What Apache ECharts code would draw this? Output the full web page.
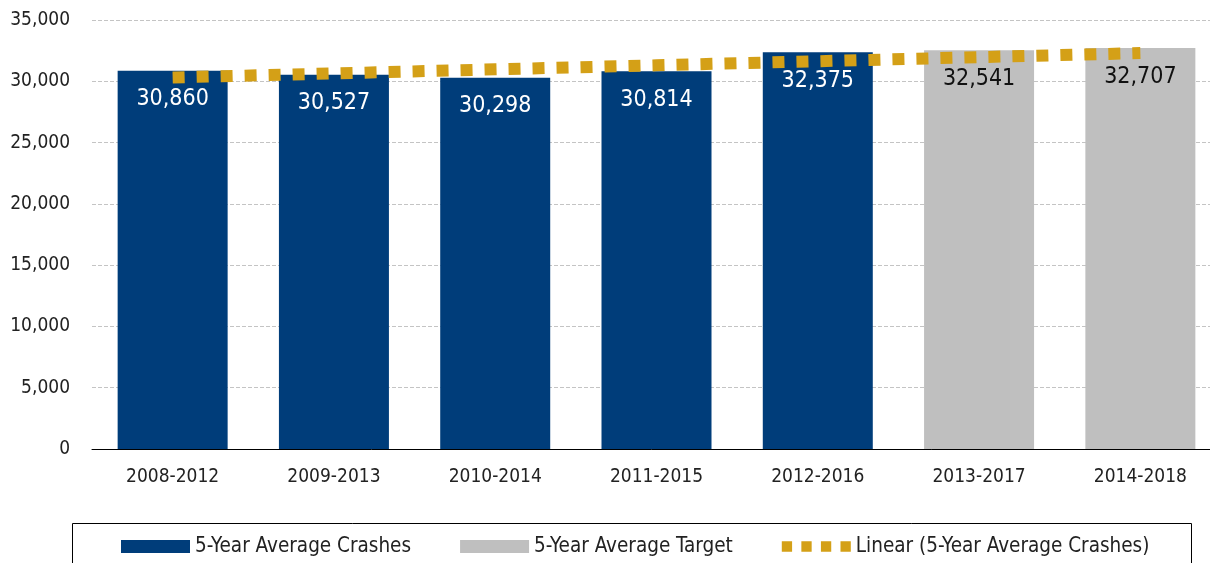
<!DOCTYPE html>
<html><head><meta charset="utf-8">
<script src="https://cdn.jsdelivr.net/npm/echarts@6/dist/echarts.min.js"></script>
<style>html,body{margin:0;padding:0;background:#fff}#c{width:1210px;height:563px}</style>
</head><body><div id="c"></div>
<script>
const categories = ['2008-2012','2009-2013','2010-2014','2011-2015','2012-2016','2013-2017','2014-2018'];
const crashes = [30860, 30527, 30298, 30814, 32375, null, null];
const targets = [null, null, null, null, null, 32541, 32707];
const trend = [30311, 30643, 30975, 31306, 31638, 31970, 32302];
const yTicks = [0, 5000, 10000, 15000, 20000, 25000, 30000, 35000];

const FONT = '"Liberation Sans Narrow", "DejaVu Sans Condensed", sans-serif';
const fmt = v => v.toLocaleString('en-US');
const chart = echarts.init(document.getElementById('c'), null, {renderer: 'canvas'});
chart.setOption({
  animation: false,
  textStyle: {fontFamily: FONT},
  grid: {left: 92, width: 1129, top: 20, height: 429, containLabel: false, outerBoundsMode: 'none'},
  xAxis: {
    type: 'category', data: categories,
    axisLine: {lineStyle: {color: '#000', width: 1}},
    axisTick: {show: false},
    axisLabel: {color: '#222', fontSize: 19, fontFamily: FONT, margin: 19}
  },
  yAxis: {
    type: 'value', min: yTicks[0], max: yTicks[yTicks.length - 1], interval: 5000,
    axisLine: {show: false}, axisTick: {show: false},
    axisLabel: {color: '#222', fontSize: 19, fontFamily: FONT, margin: 22, formatter: v => fmt(v)},
    splitLine: {lineStyle: {color: '#c4c4c4', type: [4, 2], width: 1}}
  },
  legend: {
    top: 531, left: 116, itemGap: 49, itemWidth: 69, itemHeight: 13,
    textStyle: {color: '#222', fontSize: 20.5, fontFamily: FONT},
    data: [
      {name: '5-Year Average Crashes', icon: 'rect'},
      {name: '5-Year Average Target', icon: 'rect'},
      {name: 'Linear (5-Year Average Crashes)', icon: 'path://M0,0h10v10h-10zM19,0h10v10h-10zM38,0h10v10h-10zM57,0h10v10h-10z'}
    ]
  },
  graphic: [{
    type: 'rect', left: 70, top: 521, shape: {width: 1119, height: 60},
    style: {fill: 'none', stroke: '#000', lineWidth: 1}, silent: true, z: -1
  }],
  series: [
    {
      name: '5-Year Average Crashes', type: 'bar', data: crashes, barWidth: 110, barGap: '-100%',
      itemStyle: {color: '#003d7a'},
      label: {show: true, position: 'insideTop', distance: 17, color: '#fff', fontSize: 23, fontFamily: FONT, formatter: p => fmt(p.value)}
    },
    {
      name: '5-Year Average Target', type: 'bar', data: targets, barWidth: 110, barGap: '-100%',
      itemStyle: {color: '#bfbfbf'},
      label: {show: true, position: 'insideTop', distance: 17, color: '#111', fontSize: 23, fontFamily: FONT, formatter: p => fmt(p.value)}
    },
    {
      name: 'Linear (5-Year Average Crashes)', type: 'line', data: trend, symbol: 'none', z: 5,
      lineStyle: {color: '#d4a017', width: 12, type: [12, 12], cap: 'butt'},
      itemStyle: {color: '#d4a017'}
    }
  ]
});
</script></body></html>
